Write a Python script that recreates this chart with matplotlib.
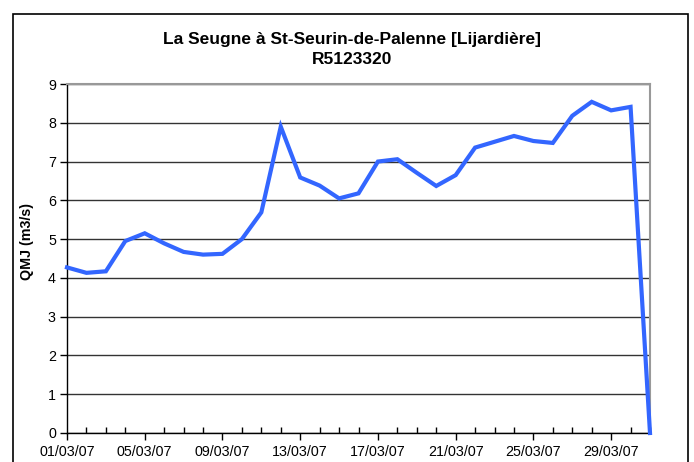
import datetime as dt
import matplotlib
matplotlib.use("Agg")
import matplotlib.pyplot as plt
import matplotlib.dates as mdates
from matplotlib.patches import Rectangle

plt.rcParams["font.family"] = ["Liberation Sans", "DejaVu Sans"]

# Daily mean flow, March 2007
days = list(range(1, 32))
qmj = [4.27, 4.13, 4.17, 4.95, 5.15, 4.89, 4.67, 4.60, 4.62, 5.00,
       5.69, 7.90, 6.59, 6.38, 6.05, 6.18, 7.00, 7.06, 6.71, 6.37,
       6.65, 7.36, 7.51, 7.66, 7.53, 7.48, 8.18, 8.54, 8.32, 8.41,
       0.00]
dates = [dt.datetime(2007, 3, d) for d in days]
label_days = [1, 5, 9, 13, 17, 21, 25, 29]

title = "La Seugne à St-Seurin-de-Palenne [Lijardière]\nR5123320"
ylabel = "QMJ (m3/s)"

fig = plt.figure(figsize=(6.94, 4.62), dpi=100)

# outer frame of the chart area (bottom edge is cut off in the reference)
fig.patches.append(Rectangle((13 / 694, -0.05), (688 - 13) / 694, 1.05 - 14 / 462,
                             transform=fig.transFigure, fill=False,
                             edgecolor="black", linewidth=1.2))

ax = fig.add_axes([67 / 694, 1 - 433 / 462, (650 - 67) / 694, (433 - 84) / 462])

ax.plot(dates, qmj, color="#3366FF", linewidth=3, solid_joinstyle="miter",
        clip_on=False, zorder=3)

ax.set_xlim(dates[0], dates[-1])
ax.set_ylim(0, 9)
ax.set_yticks(range(0, 10))

ax.xaxis.set_major_locator(mdates.DayLocator(bymonthday=label_days))
ax.xaxis.set_major_formatter(mdates.DateFormatter("%d/%m/%y"))
ax.xaxis.set_minor_locator(mdates.DayLocator())

ax.tick_params(axis="x", which="major", direction="out", length=5, width=1,
               labelsize=10.3, pad=4)
ax.tick_params(axis="x", which="minor", direction="in", length=4, width=1)
ax.tick_params(axis="y", direction="out", length=5, width=1, labelsize=10.3, pad=3)

ax.grid(axis="y", color="#333333", linewidth=1)
ax.set_axisbelow(True)

for side in ["top", "right"]:
    ax.spines[side].set_color("#999999")
    ax.spines[side].set_linewidth(1.5)
for side in ["left", "bottom"]:
    ax.spines[side].set_color("black")
    ax.spines[side].set_linewidth(1)

fig.text(352 / 694, 1 - 49.5 / 462, title, ha="center", va="center",
         fontsize=12.5, fontweight="bold", linespacing=1.35)
fig.text(27 / 694, 1 - 241 / 462, ylabel, rotation=90, ha="center", va="center",
         fontsize=10.3, fontweight="bold")

fig.savefig("out.png", dpi=100)
